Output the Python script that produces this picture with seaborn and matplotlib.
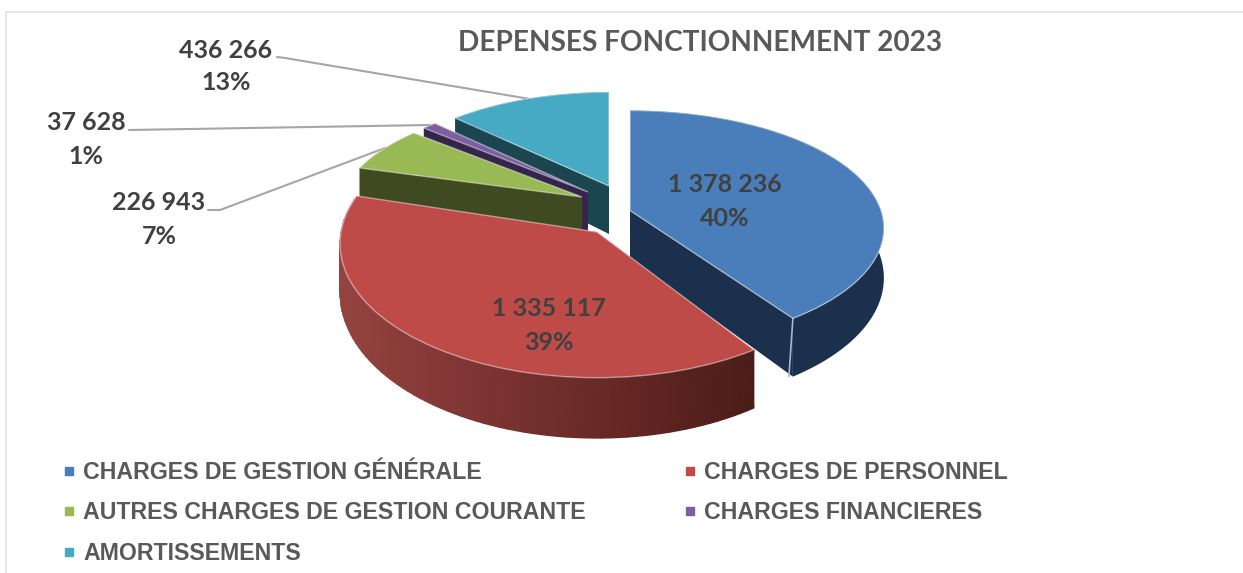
import numpy as np
import seaborn as sns
import matplotlib.pyplot as plt
from matplotlib.colors import LinearSegmentedColormap
from matplotlib.lines import Line2D
from matplotlib.transforms import Transform

# Data
categories = ['CHARGES DE GESTION GÉNÉRALE', 'CHARGES DE PERSONNEL',
              'AUTRES CHARGES DE GESTION COURANTE', 'CHARGES FINANCIERES',
              'AMORTISSEMENTS']
values = [1378236, 1335117, 226943, 37628, 436266]
value_labels = ['1 378 236', '1 335 117', '226 943', '37 628', '436 266']
percent_labels = ['40%', '39%', '7%', '1%', '13%']
title = 'DEPENSES FONCTIONNEMENT 2023'

# Styles
top_colors = ['#4A7EBB', '#BE4B48', '#98B954', '#7D5FA0', '#46AAC5']
wall_colors = ['#1B304D', '#6E2D2A', '#3F4A20', '#33264A', '#1B4650']
red_wall = LinearSegmentedColormap.from_list(
    'red_wall', ['#964340', '#7E3533', '#662825', '#4B1C19'])

# Exploded slices: apex in pixels, width, height, perspective
slice_apex = [(630, 210.5), (597, 232), (582, 197), (588, 192), (609, 186)]
slice_w = [251, 256, 241, 235, 236]
slice_h = [115, 133, 109, 109, 108]
slice_p = [0.15, 0.087, 0.15, 0.15, 0.15]
depth = 48
draw_order = [4, 3, 2, 0, 1]


class SliceProjection(Transform):
    input_dims = 2
    output_dims = 2

    def __init__(self, i):
        super().__init__()
        self.i = i

    def transform_non_affine(self, xy):
        xy = np.asarray(xy)
        f = 1 / (1 + slice_p[self.i] * xy[:, 1])
        ax0, ay0 = slice_apex[self.i]
        return np.column_stack([ax0 + slice_w[self.i] * xy[:, 0] * f,
                                ay0 - slice_h[self.i] * xy[:, 1] * f])


def top_point(i, theta):
    u, w = np.sin(theta), np.cos(theta)
    return SliceProjection(i).transform_non_affine(np.column_stack([u, w]))


def drop(theta):
    # walls get taller toward the viewer
    return depth * (1 - 0.26 * np.cos(theta))


sns.set_theme(style='white')
plt.rcParams['font.family'] = ['Lato', 'DejaVu Sans']

fig, ax = plt.subplots(figsize=(12.43, 5.73), dpi=100)
fig.subplots_adjust(0, 0, 1, 1)

wedges, _ = ax.pie(values, colors=sns.color_palette(top_colors), startangle=90,
                   counterclock=False, radius=1,
                   wedgeprops={'edgecolor': (1, 1, 1, 0.45), 'linewidth': 1})
ax.set_aspect('auto')
ax.set_xlim(0, 1243)
ax.set_ylim(573, 0)
ax.axis('off')

edges = np.concatenate([[0], np.cumsum(values)]) / sum(values) * 2 * np.pi

for z, i in enumerate(draw_order):
    start, end = edges[i], edges[i + 1]
    wedges[i].set_transform(SliceProjection(i) + ax.transData)
    wedges[i].set_zorder(z * 3 + 4)

    # outer wall
    t = np.linspace(start, end, 80)
    pts = top_point(i, t)
    X = np.vstack([pts[:, 0], pts[:, 0]])
    Y = np.vstack([pts[:, 1], pts[:, 1] + drop(t)])
    if i == 1:
        C = np.vstack([pts[:, 0], pts[:, 0]])
        ax.pcolormesh(X, Y, C, cmap=red_wall, shading='gouraud',
                      vmin=336, vmax=758, zorder=z * 3 + 3)
    else:
        ax.fill(np.r_[X[0], X[1][::-1]], np.r_[Y[0], Y[1][::-1]],
                color=wall_colors[i], lw=0, zorder=z * 3 + 3)

    # cut faces, behind the outer wall
    ax0, ay0 = slice_apex[i]
    for a in (start, end):
        p = top_point(i, np.array([a]))[0]
        ax.fill([ax0, p[0], p[0], ax0],
                [ay0, p[1], p[1] + drop(a), ay0 + drop(np.pi / 2)],
                color=wall_colors[i], lw=0, zorder=z * 3 + 2)

# light edge on the blue corner
p = top_point(0, np.array([edges[1]]))[0]
ax.plot([p[0], p[0] - 4], [p[1], p[1] + drop(edges[1])], color='#A9B8C9', lw=1.2,
        zorder=12)

# Labels
text_color = '#404040'
label_xy = [(725, 185, 218), (549, 309, 343), (159, 202, 236), (86, 122, 156), (226, 50, 83)]
for (x, y1, y2), v, pc in zip(label_xy, value_labels, percent_labels):
    ax.text(x, y1, v, ha='center', va='center', fontsize=18, fontweight='bold',
            color=text_color, zorder=20)
    ax.text(x, y2, pc, ha='center', va='center', fontsize=18, fontweight='bold',
            color=text_color, zorder=20)

ax.text(700, 43, title, ha='center', va='center', fontsize=20.2, fontweight='bold',
        color='#595959')

# Leader lines
leader_color = '#A6A6A6'
ax.plot([277, 285, 530], [57, 58, 99], color=leader_color, lw=1.5, zorder=1)
ax.plot([129, 430], [130, 125], color=leader_color, lw=1.5, zorder=1)
ax.plot([208, 220, 385], [210, 210, 148], color=leader_color, lw=1.5, zorder=1)

# Frame
ax.plot([6, 6], [573, 12], color='#E2E2E2', lw=1.2, zorder=0)
ax.plot([6, 1243], [12, 12], color='#E2E2E2', lw=1.2, zorder=0)

# Legend
legend_order = [0, 2, 4, 1, 3]
handles = [Line2D([], [], marker='s', ls='', ms=5.5, color=top_colors[i],
                  label=categories[i]) for i in legend_order]
ax.legend(handles=handles, ncols=2, loc='upper left', frameon=False,
          bbox_to_anchor=(0.0297, 0.2321), bbox_transform=fig.transFigure,
          prop={'family': 'Liberation Sans', 'weight': 'bold', 'size': 16.7},
          labelcolor='#595959', handletextpad=0.1, handlelength=1,
          labelspacing=0.755, columnspacing=3.99)

plt.savefig('out.png', dpi=100)
